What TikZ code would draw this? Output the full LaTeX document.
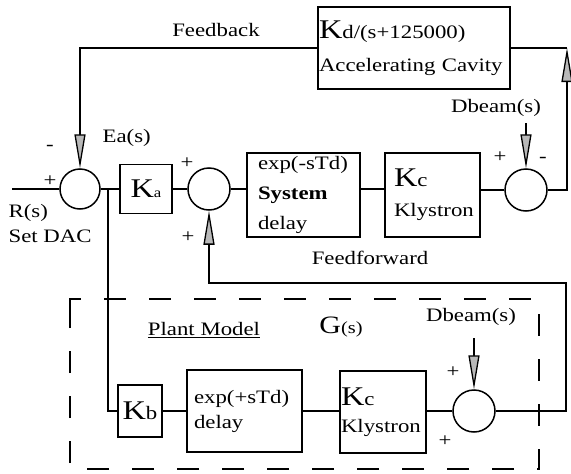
\documentclass[tikz,border=0pt]{standalone}
\usepackage{fontspec}
\setmainfont{Liberation Serif}[FakeStretch=1.2]
\usetikzlibrary{arrows.meta}
\newcommand{\BigK}{{\fontsize{27}{27}\selectfont K}}
\begin{document}
\begin{tikzpicture}[x=1pt,y=-1pt,
  line width=1.3pt,
  every node/.style={font=\fontsize{19}{30}\selectfont, inner sep=0pt},
  blk/.style={draw, line width=1.5pt, rectangle},
  sum/.style={draw, line width=1.5pt, circle, minimum size=42pt},
  sign/.style={font=\fontsize{19}{19}\selectfont},
  garrow/.style={-{Triangle[length=34pt,width=11pt,fill=gray!55]}},
  dashbox/.style={line width=2.2pt, dash pattern=on 22pt off 23pt}
]
\useasboundingbox (0,0) rectangle (571,474);

% blocks
\node[blk, minimum width=192, minimum height=82, text width=190, inner xsep=1, align=left,
  font=\fontsize{19}{33}\selectfont] (kd) at (414,48) {\BigK d/(s+125000)\\Accelerating Cavity};
\node[blk, minimum width=52, minimum height=49] (ka) at (146,189) {\BigK{\fontsize{14}{14}\selectfont a}};
\node[blk, minimum width=113, minimum height=84, text width=91, inner xsep=11, align=left] (dl) at (303.5,195)
  {exp(-sTd)\\\textbf{System}\\delay};
\node[blk, minimum width=95, minimum height=84, text width=77, inner xsep=9, align=left] (kc) at (432.5,195)
  {\BigK c\\Klystron};
\node[blk, minimum width=44, minimum height=52] (kb) at (140,411) {\BigK b};
\node[blk, minimum width=115, minimum height=82, text width=101, inner xsep=7, align=left,
  font=\fontsize{19}{25}\selectfont] (ex) at (244.5,411) {exp(+sTd)\\delay};
\node[blk, minimum width=86, minimum height=82, text width=84, inner xsep=1, align=left,
  font=\fontsize{19}{27}\selectfont] (kc2) at (383,412) {\BigK c\\Klystron};

% summing junctions
\node[sum, minimum size=40pt] (s1) at (80,189) {};
\node[sum] (s2) at (209,189) {};
\node[sum] (s3) at (526,190) {};
\node[sum] (s4) at (474,411) {};

% coordinates
\coordinate (in) at (12,189);
\coordinate (j) at (108,189);
\coordinate (cr) at (567,48);
\coordinate (cr2) at (566,283);
\coordinate (d1) at (526,123);
\coordinate (d2) at (474,338);

% connectors
\draw (in) -- (s1.west);
\draw (s1.east) -- (ka.west);
\draw (ka.east) -- (s2.west);
\draw (s2.east) -- (s2.east -| dl.west);
\draw (dl.east |- s2) -- (kc.west |- s2);
\draw (kc.east |- s3) -- (s3.west);
\draw[garrow] (s3.east) -| (cr);
\draw (cr) -- (kd.east);
\draw[garrow] (kd.west) -| (s1.north);
\draw[garrow] (d1) -- (s3.north);

\draw (j) |- (kb.west);
\draw (kb.east) -- (ex.west);
\draw (ex.east) -- (ex.east -| kc2.west);
\draw (kc2.east |- s4) -- (s4.west);
\draw[garrow] (d2) -- (s4.north);
\draw[garrow] (s4.east) -| (cr2) -| (s2.south);

% dashed plant-model frame
\draw[dashbox] (70,310) -- (70,299) -- (539,299) -- (539,469) -- (70,469) -- cycle;

% labels
\node (fb) at (216,30) {Feedback};
\node (ff) at (370,258) {Feedforward};
\node[anchor=west] (ea) at (102,138) {Ea(s)};
\node[anchor=west] (rs) at (8,213) {R(s)};
\node[anchor=west] (dac) at (8,236) {Set DAC};
\node (db1) at (496,108) {Dbeam(s)};
\node (db2) at (471,317) {Dbeam(s)};
\node (pm) at (204,330) {\underline{Plant Model}};
\node (gs) at (341,327) {{\fontsize{25}{25}\selectfont G}{\fontsize{17}{17}\selectfont (s)}};

% signs
\node[sign] (p1) at (50,181) {+};
\node[sign] (m1) at (50,148) {-};
\node[sign] (p2) at (187,163) {+};
\node[sign] (p3) at (188,237) {+};
\node[sign] (p4) at (500,157) {+};
\node[sign] (m2) at (543,160) {-};
\node[sign] (p5) at (453,372) {+};
\node[sign] (p6) at (445,441) {+};
\end{tikzpicture}
\end{document}
